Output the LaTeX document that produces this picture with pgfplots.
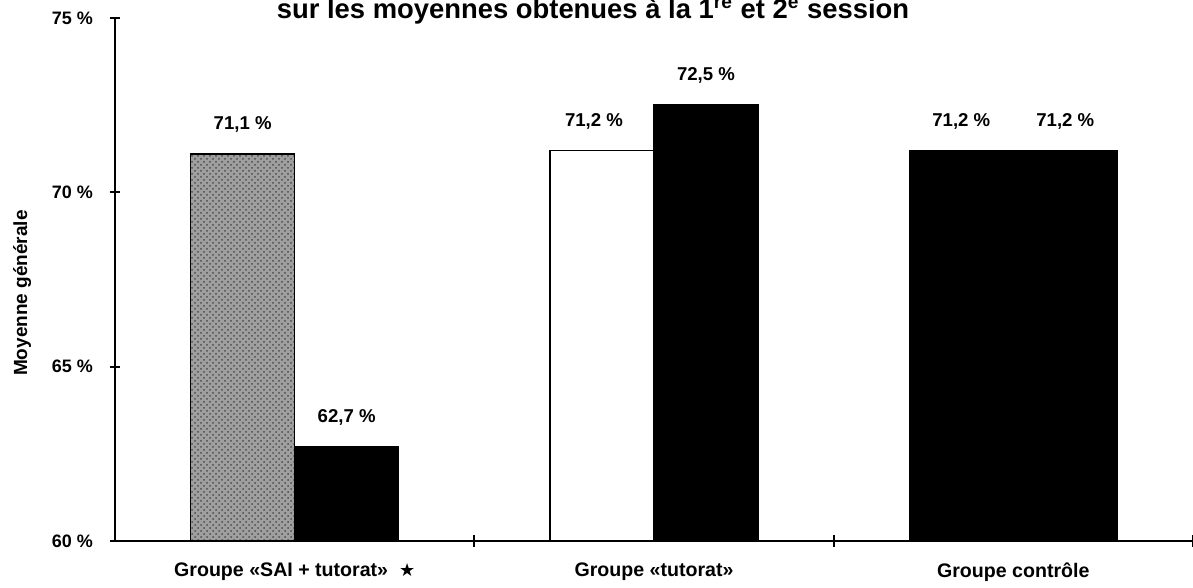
\documentclass[border=0pt]{standalone}
\usepackage{pgfplots}
\pgfplotsset{compat=1.18}
\usetikzlibrary{patterns}
\usepackage{fontspec}
\setmainfont{Liberation Sans}
\newfontfamily\dejavu{DejaVu Sans}
\begin{document}
\begin{tikzpicture}[x=1pt,y=1pt]
\useasboundingbox (0,0) rectangle (596.5,294);
\node[anchor=base, font=\bfseries\fontsize{13.7}{14}\selectfont] at (296.5,284.5) {sur les moyennes obtenues à la 1\textsuperscript{re} et 2\textsuperscript{e} session};
\begin{axis}[
  at={(57.5pt,23.5pt)}, anchor=south west,
  scale only axis, width=539pt, height=261.5pt,
  xmin=-0.5, xmax=2.5, ymin=60, ymax=75,
  axis x line=bottom, axis y line=left,
  axis line style={-, line width=1.3pt},
  ytick={60,65,70,75}, yticklabels={60 \%,65 \%,70 \%,75 \%},
  xtick={0,1,2},
  xticklabels={Groupe «SAI + tutorat»\ \ {\dejavu\fontsize{9}{9}\selectfont ★}, Groupe «tutorat», Groupe contrôle},
  major x tick style={draw=none},
  minor xtick={0.5,1.5,2.5},
  tick align=center,
  major tick length=5pt, minor tick length=6pt,
  tick style={line width=1pt, black},
  yticklabel style={font=\bfseries\fontsize{9}{10}\selectfont, xshift=-5pt},
  xticklabel style={font=\bfseries\fontsize{9.8}{10}\selectfont, yshift=-5pt},
  ylabel={Moyenne générale},
  ylabel style={font=\bfseries\fontsize{9.5}{10}\selectfont, at={(axis description cs:-0.086,0.474)}, anchor=center},
  /pgf/number format/assume math mode=true,
  every node near coord/.append style={font=\bfseries\fontsize{9.3}{10}\selectfont, anchor=south, yshift=7pt},
  nodes near coords={\pgfmathprintnumber[fixed, precision=1, fixed zerofill, use comma]{\pgfplotspointmeta} \%},
]
% 1re session
\addplot[ybar, bar width=52pt, bar shift=-26pt, draw=black, line width=0.8pt, fill=gray!75, postaction={pattern=crosshatch dots, pattern color=black!70}, every node near coord/.append style={xshift=-26pt}] coordinates {(0,71.1)};
\addplot[ybar, bar width=52pt, bar shift=-26pt, draw=black, line width=0.8pt, fill=white, every node near coord/.append style={xshift=-30pt}] coordinates {(1,71.2)};
\addplot[ybar, bar width=52pt, bar shift=-26pt, draw=black, line width=0.8pt, fill=black, every node near coord/.append style={xshift=-26pt}] coordinates {(2,71.2)};
% 2e session
\addplot[ybar, bar width=52pt, bar shift=26pt, draw=black, line width=0.8pt, fill=black, every node near coord/.append style={xshift=26pt}] coordinates {(0,62.7)};
\addplot[ybar, bar width=52pt, bar shift=26pt, draw=black, line width=0.8pt, fill=black, every node near coord/.append style={xshift=26pt}] coordinates {(1,72.5)};
\addplot[ybar, bar width=52pt, bar shift=26pt, draw=black, line width=0.8pt, fill=black, every node near coord/.append style={xshift=26pt}] coordinates {(2,71.2)};
\end{axis}
\end{tikzpicture}
\end{document}
